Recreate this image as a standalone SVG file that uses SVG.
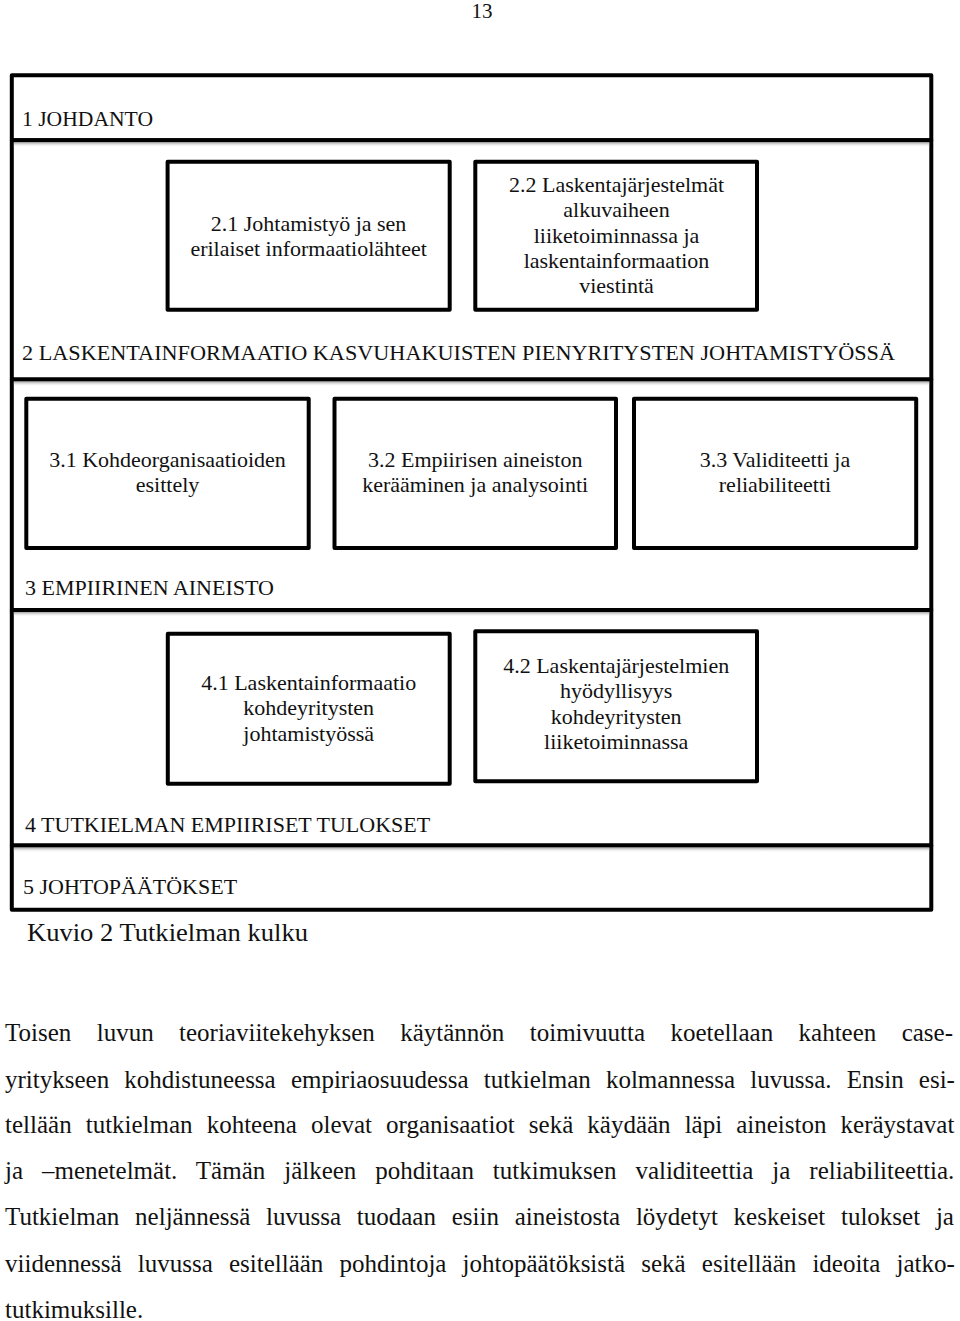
<svg xmlns="http://www.w3.org/2000/svg" width="960" height="1321" viewBox="0 0 960 1321">
  <defs>
    <linearGradient id="shade" x1="0" y1="0" x2="0" y2="1">
      <stop offset="0" stop-color="#8c8c8c" stop-opacity="0.8"/>
      <stop offset="1" stop-color="#ffffff" stop-opacity="0"/>
    </linearGradient>
    <style>
      .sec { fill: #ffffff; stroke: #000000; stroke-width: 4; stroke-linejoin: round; }
      .box { fill: #ffffff; stroke: #000000; stroke-width: 4; stroke-linejoin: round; }
      .shade { fill: url(#shade); }
      .t { font-family: "Liberation Serif", "Times New Roman", serif; fill: #111111; }
      .title { font-size: 22px; }
      .lbl { font-size: 22px; text-anchor: middle; }
      .cap { font-size: 26px; }
      .body { font-size: 25px; }
      .pg { font-size: 21px; text-anchor: middle; }
    </style>
  </defs>
  <rect width="960" height="1321" fill="#ffffff"/>

  <text class="t pg" x="482" y="18">13</text>

  <!-- outer section frames -->
  <g id="section1">
    <rect class="sec" x="11.8" y="75.3" width="919.5" height="65"/>
    <text class="t title" x="22" y="126" textLength="131" lengthAdjust="spacingAndGlyphs">1 JOHDANTO</text>
  </g>
  <g id="section2">
    <rect class="sec" x="11.8" y="140.3" width="919.5" height="239.2"/>
    <rect class="shade" x="13.8" y="142.3" width="915.5" height="5"/>
    <text class="t title" x="22" y="360" textLength="873" lengthAdjust="spacingAndGlyphs">2 LASKENTAINFORMAATIO KASVUHAKUISTEN PIENYRITYSTEN JOHTAMISTYÖSSÄ</text>
  </g>
  <g id="section3">
    <rect class="sec" x="11.8" y="379.5" width="919.5" height="230.5"/>
    <rect class="shade" x="13.8" y="381.5" width="915.5" height="5"/>
    <text class="t title" x="25" y="595">3 EMPIIRINEN AINEISTO</text>
  </g>
  <g id="section4">
    <rect class="sec" x="11.8" y="610" width="919.5" height="235.5"/>
    <rect class="shade" x="13.8" y="612" width="915.5" height="5"/>
    <text class="t title" x="25" y="832">4 TUTKIELMAN EMPIIRISET TULOKSET</text>
  </g>
  <g id="section5">
    <rect class="sec" x="11.8" y="845.5" width="919.5" height="64.2"/>
    <rect class="shade" x="13.8" y="847.5" width="915.5" height="5"/>
    <text class="t title" x="23" y="894">5 JOHTOPÄÄTÖKSET</text>
  </g>

  <!-- inner boxes -->
  <g id="box-2-1">
    <rect class="box" x="167.6" y="161.7" width="282.1" height="148"/>
    <text class="t lbl" x="308.6" y="231">2.1  Johtamistyö ja sen</text>
    <text class="t lbl" x="308.6" y="256">erilaiset informaatiolähteet</text>
  </g>
  <g id="box-2-2">
    <rect class="box" x="475.3" y="161.7" width="281.7" height="148"/>
    <text class="t lbl" x="616.5" y="192">2.2 Laskentajärjestelmät</text>
    <text class="t lbl" x="616.5" y="217.3">alkuvaiheen</text>
    <text class="t lbl" x="616.5" y="242.6">liiketoiminnassa ja</text>
    <text class="t lbl" x="616.5" y="267.9">laskentainformaation</text>
    <text class="t lbl" x="616.5" y="293.2">viestintä</text>
  </g>
  <g id="box-3-1">
    <rect class="box" x="26.3" y="398.7" width="282.4" height="149.3"/>
    <text class="t lbl" x="167.5" y="467">3.1 Kohdeorganisaatioiden</text>
    <text class="t lbl" x="167.5" y="492.3">esittely</text>
  </g>
  <g id="box-3-2">
    <rect class="box" x="334.5" y="398.7" width="281.5" height="149.3"/>
    <text class="t lbl" x="475.2" y="467">3.2 Empiirisen aineiston</text>
    <text class="t lbl" x="475.2" y="492.3">kerääminen ja analysointi</text>
  </g>
  <g id="box-3-3">
    <rect class="box" x="634" y="398.7" width="282.2" height="149.3"/>
    <text class="t lbl" x="775" y="467">3.3 Validiteetti ja</text>
    <text class="t lbl" x="775" y="492.3">reliabiliteetti</text>
  </g>
  <g id="box-4-1">
    <rect class="box" x="167.8" y="633.8" width="281.9" height="149.9"/>
    <text class="t lbl" x="308.7" y="690">4.1 Laskentainformaatio</text>
    <text class="t lbl" x="308.7" y="715.3">kohdeyritysten</text>
    <text class="t lbl" x="308.7" y="740.6">johtamistyössä</text>
  </g>
  <g id="box-4-2">
    <rect class="box" x="475.3" y="631.2" width="281.7" height="150"/>
    <text class="t lbl" x="616.2" y="673">4.2 Laskentajärjestelmien</text>
    <text class="t lbl" x="616.2" y="698.3">hyödyllisyys</text>
    <text class="t lbl" x="616.2" y="723.6">kohdeyritysten</text>
    <text class="t lbl" x="616.2" y="748.9">liiketoiminnassa</text>
  </g>

  <g id="connectors"/>

  <text class="t cap" x="27" y="941" textLength="281" lengthAdjust="spacingAndGlyphs">Kuvio 2 Tutkielman kulku</text>

  <g id="body-text" class="t body">
    <text x="5" y="1041" word-spacing="19.15">Toisen luvun teoriaviitekehyksen käytännön toimivuutta koetellaan kahteen case-</text>
    <text x="5" y="1088" word-spacing="8.94">yritykseen kohdistuneessa empiriaosuudessa tutkielman kolmannessa luvussa. Ensin esi-</text>
    <text x="5" y="1133" word-spacing="7.81">tellään tutkielman kohteena olevat organisaatiot sekä käydään läpi aineiston keräystavat</text>
    <text x="5" y="1179" word-spacing="12.69">ja –menetelmät. Tämän jälkeen pohditaan tutkimuksen validiteettia ja reliabiliteettia.</text>
    <text x="5" y="1225" word-spacing="9.49">Tutkielman neljännessä luvussa tuodaan esiin aineistosta löydetyt keskeiset tulokset ja</text>
    <text x="5" y="1272" word-spacing="9.91">viidennessä luvussa esitellään pohdintoja johtopäätöksistä sekä esitellään ideoita jatko-</text>
    <text x="5" y="1318">tutkimuksille.</text>
  </g>
</svg>
